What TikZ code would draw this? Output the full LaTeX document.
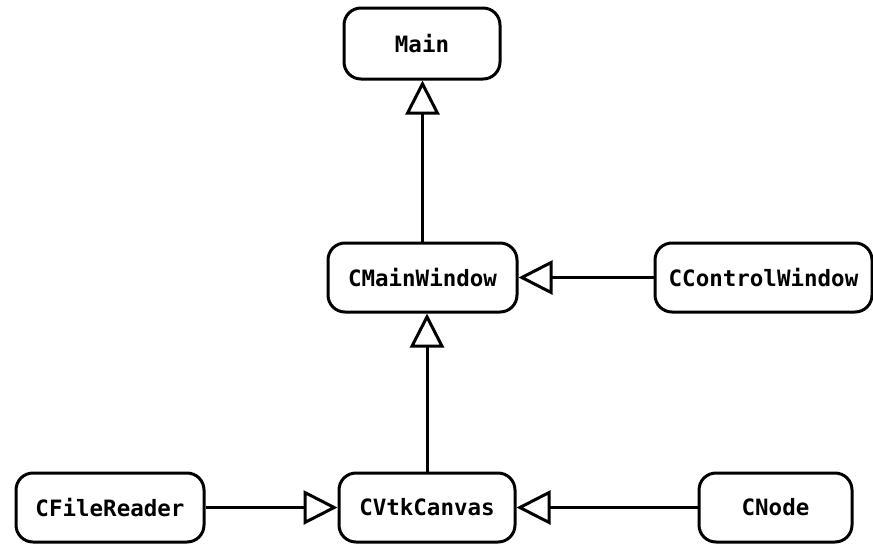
\documentclass[tikz,border=0pt]{standalone}
\usepackage{fontspec}
\setmonofont{DejaVu Sans Mono}
\usetikzlibrary{arrows.meta,positioning}

\begin{document}
\begin{tikzpicture}[x=1pt,y=-1pt,line width=3pt,
  every node/.style={draw,rounded corners=17pt,inner sep=0pt,minimum height=69pt,
    font=\ttfamily\bfseries\fontsize{22.5}{25}\selectfont},
  inherit/.style={-{Triangle[open,length=34pt,width=34pt,line width=3pt]}}
]
\useasboundingbox (0,0) rectangle (873,544);

% the classes
\node[minimum width=156pt,minimum height=71pt] (main) at (422,43.5) {Main};
\node[minimum width=189pt] (mainwin) at (422.5,277.5) {CMainWindow};
\node[minimum width=217pt] (ctrlwin) at (763.5,277.5) {CControlWindow};
\node[minimum width=176pt] (canvas) at (427,507.5) {CVtkCanvas};
\node[minimum width=188pt] (reader) at (110,507.5) {CFileReader};
\node[minimum width=153pt] (cnode) at (775.5,507.5) {CNode};

% the edges
\draw[inherit] (mainwin.north) -- (mainwin.north |- main.south);
\draw[inherit] (ctrlwin) -- (mainwin);
\draw[inherit] (canvas.north) -- (canvas.north |- mainwin.south);
\draw[inherit] (reader) -- (canvas);
\draw[inherit] (cnode) -- (canvas);

\end{tikzpicture}
\end{document}
